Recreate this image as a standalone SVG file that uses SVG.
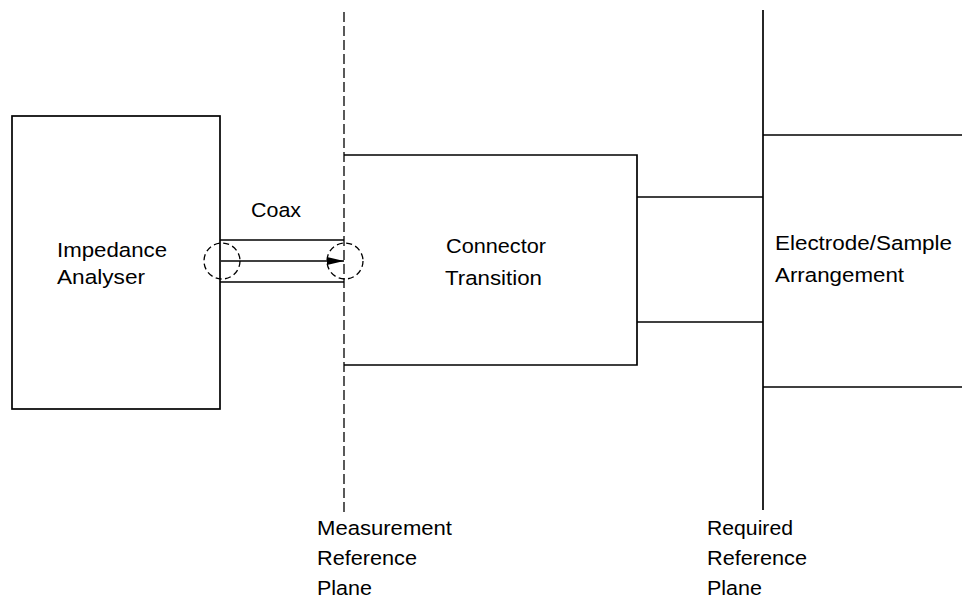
<svg xmlns="http://www.w3.org/2000/svg" width="962" height="599" viewBox="0 0 962 599">
  <style>
    .ln { stroke: #000; stroke-width: 1.7; fill: none; }
    .dash { stroke: #000; stroke-width: 1.3; fill: none; stroke-dasharray: 10 4; }
    .ring { stroke: #000; stroke-width: 1.3; fill: none; stroke-dasharray: 6 3.5; }
    .lbl { font-family: "Liberation Sans", Arial, Helvetica, sans-serif; font-size: 20.5px; fill: #000; }
  </style>
  <defs>
    <marker id="head" markerWidth="18" markerHeight="10" refX="17" refY="5" orient="auto" markerUnits="userSpaceOnUse">
      <path d="M0,1 L17,5 L0,9 Z" fill="#000"/>
    </marker>
  </defs>
  <rect width="962" height="599" fill="#fff"/>

  <!-- reference planes -->
  <g id="measurement-plane">
    <line class="dash" x1="344" y1="12" x2="344" y2="512"/>
    <text class="lbl" x="317" y="535" textLength="135" lengthAdjust="spacingAndGlyphs">Measurement</text>
    <text class="lbl" x="317" y="565" textLength="100" lengthAdjust="spacingAndGlyphs">Reference</text>
    <text class="lbl" x="317" y="595" textLength="55" lengthAdjust="spacingAndGlyphs">Plane</text>
  </g>
  <g id="required-plane">
    <line class="ln" x1="763" y1="10" x2="763" y2="510"/>
    <text class="lbl" x="707" y="535" textLength="86" lengthAdjust="spacingAndGlyphs">Required</text>
    <text class="lbl" x="707" y="565" textLength="100" lengthAdjust="spacingAndGlyphs">Reference</text>
    <text class="lbl" x="707" y="595" textLength="55" lengthAdjust="spacingAndGlyphs">Plane</text>
  </g>

  <!-- instrument -->
  <g id="impedance-analyser">
    <rect class="ln" x="12" y="116" width="208" height="293"/>
    <text class="lbl" x="57" y="257" textLength="110" lengthAdjust="spacingAndGlyphs">Impedance</text>
    <text class="lbl" x="57" y="284" textLength="88" lengthAdjust="spacingAndGlyphs">Analyser</text>
  </g>

  <!-- connector transition block -->
  <g id="connector-transition">
    <path class="ln" d="M344,155 H637 V365 H344"/>
    <text class="lbl" x="446" y="253" textLength="100" lengthAdjust="spacingAndGlyphs">Connector</text>
    <text class="lbl" x="445" y="285" textLength="97" lengthAdjust="spacingAndGlyphs">Transition</text>
  </g>

  <!-- sample holder -->
  <g id="electrode-sample">
    <line class="ln" x1="763" y1="135" x2="962" y2="135"/>
    <line class="ln" x1="763" y1="387" x2="962" y2="387"/>
    <text class="lbl" x="775" y="250" textLength="177" lengthAdjust="spacingAndGlyphs">Electrode/Sample</text>
    <text class="lbl" x="775" y="282" textLength="129" lengthAdjust="spacingAndGlyphs">Arrangement</text>
  </g>

  <!-- coax cable -->
  <g id="coax">
    <text class="lbl" x="251" y="217" textLength="50" lengthAdjust="spacingAndGlyphs">Coax</text>
    <circle class="ring" cx="222" cy="261" r="18"/>
    <circle class="ring" cx="345" cy="261" r="18"/>
  </g>

  <!-- connectors -->
  <g id="connectors">
    <line class="ln" x1="220" y1="240" x2="344" y2="240"/>
    <line class="ln" x1="220" y1="282" x2="344" y2="282"/>
    <line class="ln" x1="221" y1="261" x2="344" y2="261" marker-end="url(#head)"/>
    <line class="ln" x1="637" y1="197" x2="763" y2="197"/>
    <line class="ln" x1="637" y1="322" x2="763" y2="322"/>
  </g>
</svg>
